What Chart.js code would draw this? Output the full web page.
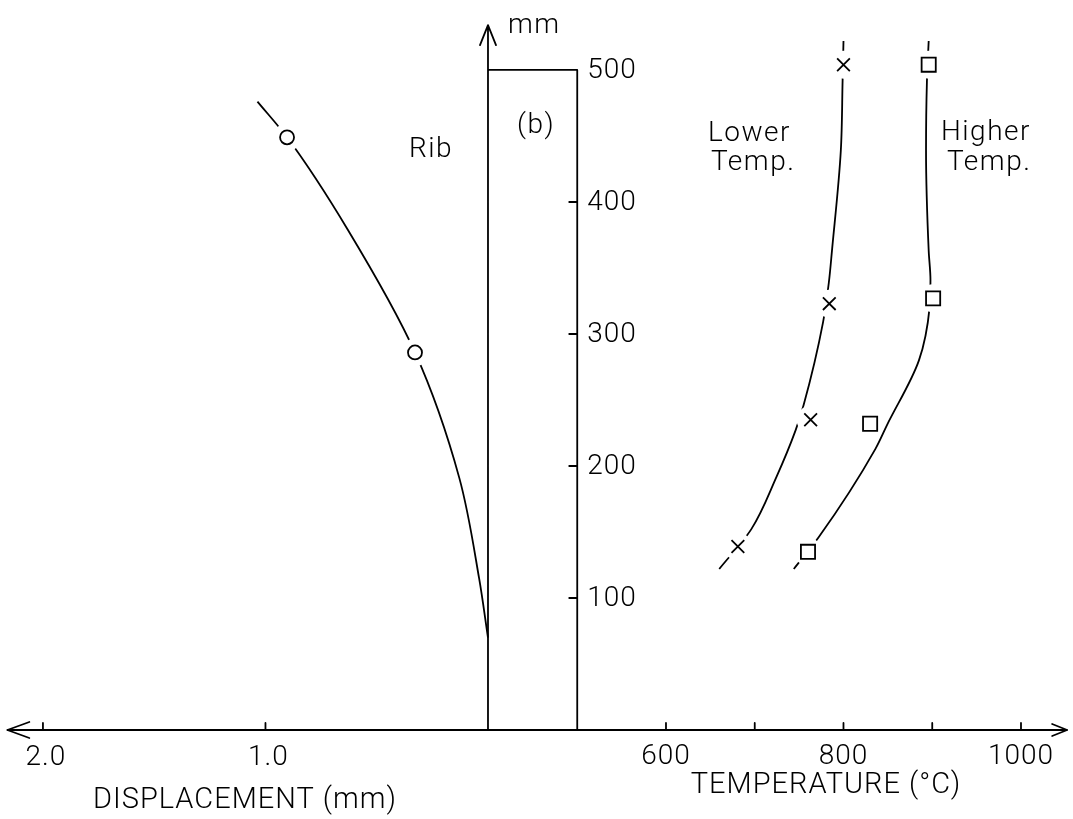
<!DOCTYPE html>
<html><head><meta charset="utf-8">
<script src="https://cdn.jsdelivr.net/npm/chart.js@4.4.1/dist/chart.umd.min.js"></script>
<style>html,body{margin:0;padding:0;background:#fff;}#wrap{width:1073px;height:819px;}</style>
</head><body><div id="wrap"><canvas id="c" width="1073" height="819"></canvas></div>
<script>
// ---- data ----
// displacement profile (mm displacement vs height mm)
const dispMarkX = [0.903, 0.328];
const dispMarkY = [449, 286];
const dispCurveX = [0.0, 0.04, 0.129, 0.328, 0.63, 0.903, 1.036];
const dispCurveY = [70, 115, 191, 286, 379, 449, 476];
// lower temperature profile (°C vs height mm)
const lowMarkX = [800, 784, 763, 681];
const lowMarkY = [504, 323, 235, 139];
const lowCurveX = [660, 696, 724, 746, 755, 777, 783.5, 787, 797, 799, 800];
const lowCurveY = [122, 152, 191, 227, 246, 309, 339, 363, 439, 492, 522];
// higher temperature profile
const highMarkX = [896, 901, 830, 760];
const highMarkY = [504, 327, 232, 135];
const highCurveX = [744, 772, 836, 849, 885, 897, 898, 896, 893, 894, 896];
const highCurveY = [122, 146, 213, 231, 280, 320, 341, 363, 439, 491, 522];
// axes
const heightTicks = [100, 200, 300, 400, 500];
const tempTicks = [600, 700, 800, 900, 1000];
const tempLabels = [600, 800, 1000];
const dispTicks = [1.0, 2.0];
const dispLabels = ['1.0', '2.0'];

const pts = (xs, ys) => xs.map((v, i) => ({x: v, y: ys[i]}));
const FONT = 'Roboto, "DejaVu Sans", sans-serif';

const frame = {
  id: 'frame',
  afterDatasetsDraw(chart) {
    const ctx = chart.ctx, xd = chart.scales.xd, xt = chart.scales.xt, y = chart.scales.y;
    ctx.save();
    ctx.strokeStyle = '#000'; ctx.fillStyle = '#000';
    ctx.lineWidth = 1.8; ctx.lineCap = 'round'; ctx.lineJoin = 'round';
    const y0 = y.getPixelForValue(0);
    const xL = xd.getPixelForValue(2.16), xR = xt.getPixelForValue(1052);
    ctx.beginPath();
    ctx.moveTo(xL, y0); ctx.lineTo(xR, y0);
    ctx.moveTo(xL + 22, y0 - 8); ctx.lineTo(xL, y0); ctx.lineTo(xL + 22, y0 + 8);
    ctx.moveTo(xR - 15, y0 - 6); ctx.lineTo(xR, y0); ctx.lineTo(xR - 15, y0 + 6);
    // rib
    const r0 = xd.getPixelForValue(0), r1 = xt.getPixelForValue(500);
    const yTop = y.getPixelForValue(500), yArr = y.getPixelForValue(534);
    ctx.moveTo(r0, y0); ctx.lineTo(r0, yArr);
    ctx.moveTo(r0 - 8, yArr + 20); ctx.lineTo(r0, yArr); ctx.lineTo(r0 + 8, yArr + 20);
    ctx.moveTo(r0, yTop); ctx.lineTo(r1, yTop); ctx.lineTo(r1, y0);
    heightTicks.forEach(v => { if (v < 500) { const p = y.getPixelForValue(v); ctx.moveTo(r1 - 8, p); ctx.lineTo(r1, p); } });
    tempTicks.forEach(v => { const p = xt.getPixelForValue(v); ctx.moveTo(p, y0); ctx.lineTo(p, y0 - 7); });
    dispTicks.forEach(v => { const p = xd.getPixelForValue(v); ctx.moveTo(p, y0); ctx.lineTo(p, y0 - 7); });
    ctx.stroke();

    ctx.font = '300 28px ' + FONT;
    ctx.letterSpacing = '1px';
    ctx.textBaseline = 'middle';
    ctx.textAlign = 'left';
    heightTicks.forEach(v => ctx.fillText(String(v), r1 + 10, y.getPixelForValue(v) + 1));
    ctx.textAlign = 'center';
    tempLabels.forEach(v => ctx.fillText(String(v), xt.getPixelForValue(v), y0 + 27));
    dispTicks.forEach((v, i) => ctx.fillText(dispLabels[i], xd.getPixelForValue(v) + 3, y0 + 28));

    ctx.font = '300 29px ' + FONT;
    ctx.letterSpacing = '1px';
    ctx.fillText('DISPLACEMENT (mm)', 245, 801);
    ctx.fillText('TEMPERATURE (°C)', 826, 786);

    ctx.font = '300 28px ' + FONT;
    ctx.letterSpacing = '1.5px';
    ctx.textBaseline = 'alphabetic';
    ctx.textAlign = 'left';
    ctx.fillText('mm', 508, 33);
    ctx.fillText('(b)', 517, 133);
    ctx.fillText('Rib', 409, 157);
    ctx.fillText('Lower', 708, 141);
    ctx.fillText('Temp.', 711, 170);
    ctx.fillText('Higher', 941, 140);
    ctx.fillText('Temp.', 947, 170);
    ctx.restore();
  }
};

const curve = (xs, ys, axis) => ({
  data: pts(xs, ys), xAxisID: axis, showLine: true, indexAxis: 'y',
  cubicInterpolationMode: 'monotone',
  borderColor: '#000', borderWidth: 1.8, pointRadius: 0, fill: false, order: 3
});
const gap = (xs, ys, axis) => ({
  data: pts(xs, ys), xAxisID: axis, showLine: false, pointStyle: 'circle',
  pointRadius: 14, pointBackgroundColor: '#fff', pointBorderWidth: 0, pointBorderColor: '#fff', order: 2
});
const mark = (xs, ys, axis, style, r) => ({
  data: pts(xs, ys), xAxisID: axis, showLine: false, pointStyle: style,
  pointRadius: r, pointBackgroundColor: '#fff', pointBorderColor: '#000', pointBorderWidth: 1.8, order: 1
});

new Chart(document.getElementById('c'), {
  type: 'scatter',
  data: {
    datasets: [
      curve(dispCurveX, dispCurveY, 'xd'),
      curve(lowCurveX, lowCurveY, 'xt'),
      curve(highCurveX, highCurveY, 'xt'),
      gap(dispMarkX, dispMarkY, 'xd'),
      gap(lowMarkX, lowMarkY, 'xt'),
      gap(highMarkX, highMarkY, 'xt'),
      mark(dispMarkX, dispMarkY, 'xd', 'circle', 7),
      mark(lowMarkX, lowMarkY, 'xt', 'crossRot', 9),
      mark(highMarkX, highMarkY, 'xt', 'rect', 10)
    ]
  },
  options: {
    responsive: false, animation: false, devicePixelRatio: 1,
    layout: {padding: 0, autoPadding: false},
    plugins: {legend: {display: false}, tooltip: {enabled: false}},
    scales: {
      xd: {type: 'linear', axis: 'x', reverse: true, min: -2.629, max: 2.193, display: false},
      xt: {type: 'linear', axis: 'x', min: -150.4, max: 1058.6, display: false},
      y: {type: 'linear', min: -67.4, max: 553.0, display: false}
    }
  },
  plugins: [frame]
});
</script></body></html>
